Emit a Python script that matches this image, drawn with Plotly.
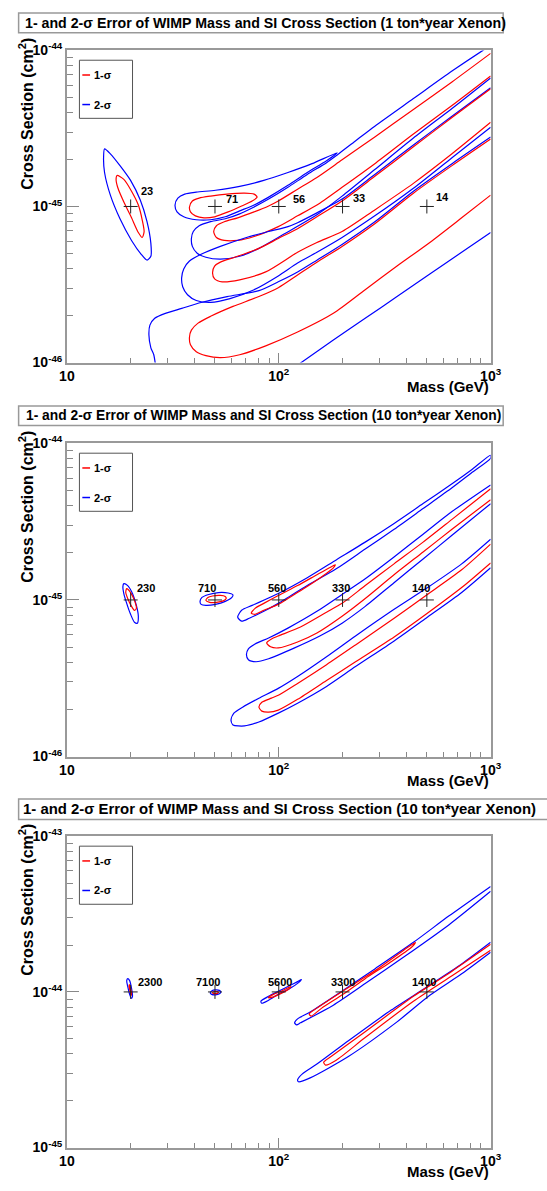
import numpy as np
import plotly.graph_objects as go

W, H = 547, 1191
RED, BLUE = "#ff0000", "#0000ff"
FONT = "Liberation Sans, Arial, Helvetica, sans-serif"

# ---------------------------------------------------------------------------
# Benchmark points (WIMP mass in GeV) and the cross section used in each panel
bench_mass = [20, 50, 100, 200, 500]
bench_xsec = [1e-45, 1e-45, 1e-44]
bench_labels = [
    ["23", "71", "56", "33", "14"],
    ["230", "710", "560", "330", "140"],
    ["2300", "7100", "5600", "3300", "1400"],
]
titles = [
    "1- and 2-σ Error of WIMP Mass and SI Cross Section (1 ton*year Xenon)",
    "1- and 2-σ Error of WIMP Mass and SI Cross Section (10 ton*year Xenon)",
    "1- and 2-σ Error of WIMP Mass and SI Cross Section (10 ton*year Xenon)",
]

# ---------------------------------------------------------------------------
# Panel 1 contours (mass in GeV, cross section in cm^2)
p1_20_red_m = [17.25, 18.57, 20.19, 21.74, 22.67, 23.15, 22.67, 21.74, 20.19, 18.57, 17.43, 17.07, 17.25]
p1_20_red_s = [15.80e-46, 14.91e-46, 12.53e-46, 10.22e-46, 8.22e-46, 6.90e-46, 6.33e-46, 6.81e-46,
               8.46e-46, 10.68e-46, 13.08e-46, 14.91e-46, 15.80e-46]
p1_20_blue_m = [15.06, 16.04, 17.81, 19.98, 22.20, 23.89, 24.91, 24.91, 23.89, 22.43, 20.19, 17.81,
                16.04, 15.06, 14.90, 15.06]
p1_20_blue_s = [23.40e-46, 21.75e-46, 18.27e-46, 14.69e-46, 10.99e-46, 7.99e-46, 5.80e-46, 4.80e-46,
                4.53e-46, 4.94e-46, 6.06e-46, 8.34e-46, 11.82e-46, 16.51e-46, 20.53e-46, 23.40e-46]

p1_50_red_m = [37.9, 39.1, 42.1, 47.7, 57.0, 68.9, 76.5, 79.0, 74.9, 66.8, 57.7, 49.8, 44.4, 40.4, 38.3, 37.9]
p1_50_red_s = [9.93e-46, 10.84e-46, 11.31e-46, 11.65e-46, 12.00e-46, 12.17e-46, 12.00e-46, 11.48e-46,
               10.84e-46, 10.07e-46, 9.23e-46, 8.59e-46, 8.46e-46, 8.71e-46, 9.23e-46, 9.93e-46]
p1_50_blue_m = [32.4, 33.4, 36.0, 40.8, 50.3, 65.4, 85.0, 110.5, 143.6, 188.7, 168.1, 136.3, 110.5,
                89.6, 76.5, 65.4, 55.9, 47.7, 40.8, 35.6, 33.1, 32.4]
p1_50_blue_s = [10.22e-46, 11.31e-46, 12.00e-46, 12.35e-46, 12.71e-46, 13.46e-46, 14.69e-46, 16.51e-46,
                18.81e-46, 22.07e-46, 19.65e-46, 16.51e-46, 13.66e-46, 11.48e-46, 10.22e-46, 9.37e-46,
                8.59e-46, 8.22e-46, 8.22e-46, 8.59e-46, 9.23e-46, 10.22e-46]

p1_100_red_m = [1000, 657, 432, 284, 199, 151.4, 122.7, 99.5, 89.6, 76.5, 64.0, 55.3, 50.8, 49.3,
                50.8, 55.3, 64.0, 76.5, 99.5, 122.7, 151.4, 199, 284, 432, 657, 1000]
p1_100_red_s = [95.7e-46, 62.8e-46, 41.8e-46, 27.9e-46, 19.9e-46, 15.35e-46, 12.9e-46, 10.84e-46,
                10.07e-46, 9.23e-46, 8.46e-46, 7.99e-46, 7.53e-46, 6.91e-46, 6.33e-46, 6.06e-46,
                6.06e-46, 6.42e-46, 7.43e-46, 8.71e-46, 10.22e-46, 13.27e-46, 18.8e-46, 29.1e-46,
                44.3e-46, 68.5e-46]
p1_100_blue_m = [1000, 919, 657, 432, 284, 230, 188.7, 168.1, 136.3, 110.5, 89.6, 76.5, 65.4, 55.9,
                 47.7, 42.1, 39.5, 38.7, 39.1, 41.2, 45.3, 53.0, 65.4, 80.6, 107.0, 151.4, 199, 284,
                 432, 657, 1000]
p1_100_blue_s = [107.5e-46, 100e-46, 73.7e-46, 49.1e-46, 32.7e-46, 26.3e-46, 21.4e-46, 19.09e-46,
                 16.04e-46, 13.27e-46, 11.15e-46, 9.93e-46, 8.97e-46, 8.34e-46, 7.99e-46, 7.53e-46,
                 6.91e-46, 6.24e-46, 5.55e-46, 5.02e-46, 4.73e-46, 4.60e-46, 4.80e-46, 5.39e-46,
                 6.71e-46, 8.84e-46, 11.65e-46, 17.24e-46, 27.45e-46, 42.44e-46, 66.6e-46]

p1_200_red_m = [1000, 657, 432, 284, 199, 151.4, 122.7, 99.5, 80.6, 62.0, 53.0, 49.8, 48.7, 49.8,
                54.1, 65.4, 86.8, 122.7, 151.4, 199, 284, 432, 657, 1000]
p1_200_red_s = [56.8e-46, 37.2e-46, 24.1e-46, 15.6e-46, 10.84e-46, 8.59e-46, 7.21e-46, 6.24e-46,
                5.39e-46, 4.73e-46, 4.40e-46, 4.15e-46, 3.75e-46, 3.44e-46, 3.29e-46, 3.39e-46,
                3.81e-46, 5.09e-46, 5.88e-46, 6.91e-46, 9.51e-46, 14.06e-46, 21.75e-46, 34.6e-46]
p1_200_blue_m = [1000, 657, 432, 284, 199, 151.4, 122.7, 110.5, 89.6, 70.4, 53.0, 43.0, 37.9, 35.6,
                 34.8, 35.2, 37.1, 40.8, 47.7, 58.9, 76.5, 99.5, 122.7, 151.4, 199, 284, 432, 657, 1000]
p1_200_blue_s = [57.6e-46, 37.8e-46, 24.8e-46, 16.04e-46, 11.15e-46, 9.10e-46, 7.87e-46, 7.43e-46,
                 6.91e-46, 6.33e-46, 5.55e-46, 4.94e-46, 4.47e-46, 3.98e-46, 3.49e-46, 3.06e-46,
                 2.72e-46, 2.50e-46, 2.43e-46, 2.57e-46, 2.93e-46, 3.59e-46, 4.34e-46, 5.09e-46,
                 6.33e-46, 8.71e-46, 13.08e-46, 20.53e-46, 32.2e-46]

p1_500_red_m = [1000, 657, 432, 284, 199, 151.4, 122.7, 99.5, 80.6, 60.8, 47.7, 41.6, 38.7, 37.9,
                38.3, 40.8, 45.3, 53.0, 65.4, 86.8, 122.7, 181.0, 255.8, 361.6, 516.4, 729.9, 1000]
p1_500_red_s = [27.05e-46, 18.27e-46, 12.17e-46, 7.76e-46, 5.55e-46, 4.40e-46, 3.64e-46, 3.02e-46,
                2.65e-46, 2.29e-46, 1.98e-46, 1.79e-46, 1.615e-46, 1.459e-46, 1.299e-46, 1.173e-46,
                1.107e-46, 1.075e-46, 1.123e-46, 1.280e-46, 1.569e-46, 2.068e-46, 2.930e-46,
                4.153e-46, 5.885e-46, 8.462e-46, 11.82e-46]
# the 2-sigma region of the 500 GeV point leaves through the lower frame edge
p1_500_blue_m = [26.25, 25.71, 24.91, 24.39, 24.65, 25.98, 29.15, 34.84, 42.98, 57.04, 80.64, 99.47,
                 122.7, 151.4, 198.9, 284.1, 432.1, 657.3, 1000,
                 None,
                 120.1, 181.0, 255.8, 361.6, 516.4, 729.9, 1000]
p1_500_blue_s = [0.944e-46, 1.123e-46, 1.244e-46, 1.502e-46, 1.737e-46, 1.922e-46, 2.067e-46,
                 2.224e-46, 2.426e-46, 2.646e-46, 2.888e-46, 3.291e-46, 3.806e-46, 4.531e-46,
                 5.717e-46, 7.985e-46, 12.53e-46, 18.81e-46, 27.85e-46,
                 None,
                 0.944e-46, 1.397e-46, 1.922e-46, 2.646e-46, 3.697e-46, 5.09e-46, 6.805e-46]

# ---------------------------------------------------------------------------
# Panel 2 contours
p2_20_red_m = [19.16, 19.98, 20.84, 21.28, 20.84, 20.19, 19.37, 18.96, 19.16]
p2_20_red_s = [11.82e-46, 11.15e-46, 9.93e-46, 8.84e-46, 8.59e-46, 9.10e-46, 10.22e-46, 11.15e-46, 11.82e-46]
p2_20_blue_m = [18.57, 19.37, 20.40, 21.28, 21.74, 21.51, 20.84, 19.98, 19.16, 18.57, 18.38, 18.57]
p2_20_blue_s = [12.71e-46, 12.35e-46, 10.99e-46, 9.23e-46, 7.87e-46, 7.11e-46, 7.21e-46, 8.10e-46,
                9.51e-46, 10.99e-46, 12.17e-46, 12.71e-46]

p2_50_red_m = [45.3, 46.3, 48.7, 53.0, 55.9, 56.5, 54.7, 50.8, 47.2, 45.3]
p2_50_red_s = [9.93e-46, 10.38e-46, 10.60e-46, 10.68e-46, 10.53e-46, 10.23e-46, 9.86e-46, 9.65e-46,
               9.65e-46, 9.93e-46]
p2_50_blue_m = [42.5, 43.4, 46.7, 51.9, 57.7, 60.8, 60.1, 55.9, 50.3, 45.3, 43.0, 42.5]
p2_50_blue_s = [9.79e-46, 10.38e-46, 10.84e-46, 11.15e-46, 11.07e-46, 10.76e-46, 10.38e-46, 9.79e-46,
                9.37e-46, 9.23e-46, 9.37e-46, 9.79e-46]

p2_100_red_m = [74.2, 77.3, 85.0, 99.5, 122.7, 151.4, 173.5, 184.8, 181.0, 159.5, 129.3, 110.5, 99.5,
                85.0, 77.3, 74.2]
p2_100_red_s = [8.22e-46, 8.84e-46, 9.51e-46, 10.68e-46, 12.35e-46, 14.48e-46, 16.04e-46, 16.75e-46,
                16.04e-46, 14.06e-46, 11.65e-46, 10.22e-46, 9.37e-46, 8.59e-46, 8.10e-46, 8.22e-46]
p2_100_blue_m = [64.0, 66.8, 74.9, 99.5, 136.3, 186.7, 255.8, 350.4, 479.9, 657.3, 810.6, 1000, 1000,
                 810.6, 657.3, 479.9, 350.4, 255.8, 186.7, 136.3, 110.5, 99.5, 85.0, 72.6, 66.8, 64.0]
p2_100_blue_s = [7.76e-46, 8.59e-46, 9.23e-46, 10.99e-46, 13.86e-46, 18.01e-46, 23.40e-46, 30.83e-46,
                 41.23e-46, 55.13e-46, 67.56e-46, 84.00e-46, 80.41e-46, 64.67e-46, 52.01e-46,
                 38.33e-46, 28.26e-46, 21.14e-46, 15.80e-46, 12.35e-46, 10.38e-46, 9.51e-46,
                 8.46e-46, 7.64e-46, 7.32e-46, 7.76e-46]

p2_200_red_m = [1000, 657, 480, 350, 256, 199, 168, 126.6, 99.5, 92.4, 87.7, 91.5, 99.5, 122.7, 151.4,
                199, 256, 350, 480, 657, 1000]
p2_200_red_s = [51.3e-46, 32.7e-46, 23.4e-46, 17.0e-46, 12.35e-46, 9.51e-46, 8.34e-46, 6.71e-46,
                5.88e-46, 5.63e-46, 5.32e-46, 5.02e-46, 4.94e-46, 5.39e-46, 6.15e-46, 7.87e-46,
                10.22e-46, 14.48e-46, 20.23e-46, 28.26e-46, 43.7e-46]
p2_200_blue_m = [1000, 657, 480, 350, 256, 199, 151.4, 110.5, 89.6, 77.3, 71.9, 70.4, 71.9, 78.1,
                 89.6, 118.8, 156.2, 199, 256, 350, 480, 657, 1000]
p2_200_blue_s = [54.3e-46, 36.7e-46, 26.3e-46, 18.81e-46, 13.66e-46, 10.84e-46, 8.46e-46, 6.61e-46,
                 5.72e-46, 5.24e-46, 4.87e-46, 4.47e-46, 4.15e-46, 4.03e-46, 4.21e-46, 4.94e-46,
                 5.88e-46, 7.11e-46, 9.10e-46, 12.89e-46, 18.27e-46, 25.9e-46, 41.2e-46]

p2_500_red_m = [1000, 729.9, 495.3, 350.4, 230.3, 168.1, 122.7, 99.5, 92.4, 83.2, 80.6, 83.2, 89.6,
                99.5, 122.7, 168.1, 230.3, 350.4, 495.3, 729.9, 1000]
p2_500_red_s = [22.72e-46, 15.57e-46, 10.68e-46, 7.64e-46, 5.16e-46, 3.86e-46, 2.93e-46, 2.46e-46,
                2.36e-46, 2.22e-46, 2.07e-46, 1.95e-46, 1.92e-46, 1.98e-46, 2.32e-46, 3.06e-46,
                4.03e-46, 5.80e-46, 8.10e-46, 12.00e-46, 17.24e-46]
p2_500_blue_m = [1000, 729.9, 495.3, 350.4, 230.3, 168.1, 122.7, 99.5, 80.6, 67.5, 61.4, 59.5, 60.8,
                 68.9, 80.6, 99.5, 122.7, 168.1, 230.3, 350.4, 495.3, 729.9, 1000]
p2_500_blue_s = [24.44e-46, 17.00e-46, 11.82e-46, 8.71e-46, 5.885e-46, 4.338e-46, 3.243e-46,
                 2.724e-46, 2.356e-46, 2.067e-46, 1.894e-46, 1.712e-46, 1.592e-46, 1.569e-46,
                 1.663e-46, 1.894e-46, 2.192e-46, 2.805e-46, 3.752e-46, 5.473e-46, 7.644e-46,
                 11.15e-46, 16.04e-46]

# ---------------------------------------------------------------------------
# Panel 3 contours
p3_20_red_m = [19.71, 19.98, 20.19, 20.09, 19.88, 19.65, 19.71]
p3_20_red_s = [11.15e-45, 10.53e-45, 9.72e-45, 9.51e-45, 10.08e-45, 10.84e-45, 11.15e-45]
p3_20_blue_m = [19.37, 19.78, 20.19, 20.40, 20.19, 19.78, 19.37, 19.16, 19.37]
p3_20_blue_s = [12.17e-45, 11.82e-45, 10.53e-45, 9.37e-45, 9.10e-45, 9.65e-45, 10.84e-45, 11.82e-45, 12.17e-45]

p3_50_red_m = [48.74, 49.26, 50.30, 51.63, 51.91, 51.37, 50.30, 49.26, 48.74]
p3_50_red_s = [9.86e-45, 10.03e-45, 10.08e-45, 10.03e-45, 9.90e-45, 9.79e-45, 9.74e-45, 9.76e-45, 9.86e-45]
p3_50_blue_m = [47.48, 48.23, 50.30, 52.45, 53.29, 52.45, 50.30, 48.23, 47.48]
p3_50_blue_s = [9.86e-45, 10.15e-45, 10.30e-45, 10.23e-45, 10.0e-45, 9.72e-45, 9.58e-45, 9.65e-45, 9.86e-45]

p3_100_red_m = [89.55, 94.38, 102.7, 114.0, 111.7, 102.7, 94.38, 89.55, 89.55]
p3_100_red_s = [9.23e-45, 9.65e-45, 10.08e-45, 10.84e-45, 10.45e-45, 9.79e-45, 9.30e-45, 9.16e-45, 9.23e-45]
p3_100_blue_m = [82.35, 89.55, 99.47, 112.8, 122.7, 127.9, 124.0, 112.8, 99.47, 89.55, 83.21, 82.35]
p3_100_blue_s = [8.71e-45, 9.37e-45, 10.08e-45, 10.99e-45, 11.65e-45, 12.00e-45, 11.48e-45, 10.53e-45,
                 9.65e-45, 8.84e-45, 8.46e-45, 8.71e-45]

p3_200_red_m = [139.2, 151.4, 201.0, 284.1, 389.0, 441.3, 423.2, 332.4, 255.8, 201.0, 159.5, 142.2, 139.2]
p3_200_red_s = [7.21e-45, 7.87e-45, 10.15e-45, 13.66e-45, 18.54e-45, 20.83e-45, 19.37e-45, 15.35e-45,
                12.17e-45, 9.65e-45, 7.87e-45, 7.00e-45, 7.21e-45]
p3_200_blue_m = [1000, 636.7, 432.1, 284.1, 201.0, 140.7, 122.7, 118.8, 121.4, 126.6, 181.0, 255.8,
                 389.0, 636.7, 1000]
p3_200_blue_s = [47.67e-45, 30.83e-45, 20.83e-45, 14.06e-45, 10.22e-45, 7.425e-45, 6.71e-45, 6.33e-45,
                 6.15e-45, 6.33e-45, 8.22e-45, 11.31e-45, 16.75e-45, 27.05e-45, 44.32e-45]

p3_500_red_m = [1000, 657.3, 432.1, 255.8, 177.2, 162.9, 166.3, 186.7, 255.8, 432.1, 657.3, 1000]
p3_500_red_s = [20.23e-45, 13.6e-45, 9.37e-45, 5.553e-45, 3.862e-45, 3.539e-45, 3.388e-45, 3.644e-45,
                5.09e-45, 8.71e-45, 12.71e-45, 18.54e-45]
p3_500_blue_m = [1000, 729.9, 495.3, 339.5, 214.0, 151.4, 129.3, 122.7, 124.0, 140.7, 214.0, 361.6,
                 516.4, 729.9, 1000]
p3_500_blue_s = [20.83e-45, 15.13e-45, 10.68e-45, 7.644e-45, 4.872e-45, 3.438e-45, 2.973e-45, 2.724e-45,
                 2.646e-45, 2.805e-45, 3.862e-45, 6.421e-45, 9.51e-45, 13.08e-45, 18.01e-45]

contours = [
    # (panel, colour, mass, cross section)
    (1, BLUE, p1_20_blue_m, p1_20_blue_s), (1, RED, p1_20_red_m, p1_20_red_s),
    (1, BLUE, p1_50_blue_m, p1_50_blue_s), (1, RED, p1_50_red_m, p1_50_red_s),
    (1, BLUE, p1_100_blue_m, p1_100_blue_s), (1, RED, p1_100_red_m, p1_100_red_s),
    (1, BLUE, p1_200_blue_m, p1_200_blue_s), (1, RED, p1_200_red_m, p1_200_red_s),
    (1, BLUE, p1_500_blue_m, p1_500_blue_s), (1, RED, p1_500_red_m, p1_500_red_s),
    (2, BLUE, p2_20_blue_m, p2_20_blue_s), (2, RED, p2_20_red_m, p2_20_red_s),
    (2, BLUE, p2_50_blue_m, p2_50_blue_s), (2, RED, p2_50_red_m, p2_50_red_s),
    (2, BLUE, p2_100_blue_m, p2_100_blue_s), (2, RED, p2_100_red_m, p2_100_red_s),
    (2, BLUE, p2_200_blue_m, p2_200_blue_s), (2, RED, p2_200_red_m, p2_200_red_s),
    (2, BLUE, p2_500_blue_m, p2_500_blue_s), (2, RED, p2_500_red_m, p2_500_red_s),
    (3, BLUE, p3_20_blue_m, p3_20_blue_s), (3, RED, p3_20_red_m, p3_20_red_s),
    (3, BLUE, p3_50_blue_m, p3_50_blue_s), (3, RED, p3_50_red_m, p3_50_red_s),
    (3, BLUE, p3_100_blue_m, p3_100_blue_s), (3, RED, p3_100_red_m, p3_100_red_s),
    (3, BLUE, p3_200_blue_m, p3_200_blue_s), (3, RED, p3_200_red_m, p3_200_red_s),
    (3, BLUE, p3_500_blue_m, p3_500_blue_s), (3, RED, p3_500_red_m, p3_500_red_s),
]

# ---------------------------------------------------------------------------
# Page layout (pixel geometry of the three pads)
pads = [
    dict(top=41, bottom=358, ylog=(-46, -44), box=(11, 3, 513, 23), tsize=14.2, tx=267),
    dict(top=440, bottom=758, ylog=(-46, -44), box=(11, 402, 513, 422), tsize=13.8, tx=265),
    dict(top=839, bottom=1155, ylog=(-45, -43), box=(11, 801, 560, 822), tsize=14.9, tx=281),
]
# label placement per pad: (xanchor, xshift, yshift)
label_style = [
    [("left", 8, 15), ("left", 9, 7), ("left", 12, 7), ("left", 8, 8), ("left", 7, 9)],
    [("left", 4, 12), ("center", -8, 12), ("center", -2, 12), ("center", -2, 12), ("center", -6, 12)],
    [("left", 5, 10), ("center", -7, 10), ("center", 1, 10), ("center", 0, 10), ("center", -3, 10)],
]
X_LEFT, X_RIGHT = 61, 500


def px(x):
    return x / W


def py(y):
    return 1 - y / H


fig = go.Figure()
for panel, colour, m, s in contours:
    fig.add_trace(go.Scatter(
        x=m, y=s, mode="lines", xaxis=f"x{panel}", yaxis=f"y{panel}",
        line=dict(color=colour, width=1.2, shape="spline", smoothing=0.7),
        connectgaps=False, hoverinfo="skip", showlegend=False))

shapes, annotations = [], []
bold = dict(family=FONT, color="black", weight="bold")
x_minor = [k * 10 ** e for e in (1, 2) for k in range(2, 10)]

for i, pad in enumerate(pads, start=1):
    xs = bench_mass
    ys = [bench_xsec[i - 1]] * len(bench_mass)
    fig.add_trace(go.Scatter(
        x=xs, y=ys, mode="markers", xaxis=f"x{i}", yaxis=f"y{i}",
        marker=dict(symbol="cross-thin", size=10, line=dict(width=1, color="#222")),
        hoverinfo="skip", showlegend=False))
    for m, yv, txt, (anc, dx, dy) in zip(xs, ys, bench_labels[i - 1], label_style[i - 1]):
        annotations.append(dict(
            x=np.log10(m), y=np.log10(yv), xref=f"x{i}", yref=f"y{i}", text=txt,
            showarrow=False, xanchor=anc, yanchor="middle", xshift=dx, yshift=dy,
            font=dict(size=11, **bold)))

    lo, hi = pad["ylog"]
    y_minor = [k * 10.0 ** e for e in range(lo, hi) for k in range(2, 10)]
    ydom = [py(pad["bottom"]), py(pad["top"])]
    axis_common = dict(
        type="log", showgrid=False, zeroline=False, showline=True, linecolor="#999",
        linewidth=1.5, mirror=True, ticks="inside", tickcolor="#888", tickwidth=1,
        tickfont=dict(size=14, **bold))
    fig.layout[f"xaxis{i}"] = dict(
        axis_common, domain=[px(X_LEFT), px(X_RIGHT)], anchor=f"y{i}", range=[1, 3],
        tickvals=[10, 100, 1000], ticktext=["10", "10<sup>2</sup>", "10<sup>3</sup>"],
        ticklen=10, minor=dict(tickvals=x_minor, ticks="inside", ticklen=5, tickcolor="#888"))
    fig.layout[f"yaxis{i}"] = dict(
        axis_common, domain=ydom, anchor=f"x{i}", range=[lo, hi],
        tickvals=[10.0 ** e for e in range(lo, hi + 1)],
        ticktext=[f"10<sup>{e}</sup>" for e in range(lo, hi + 1)],
        ticklen=12, minor=dict(tickvals=y_minor, ticks="inside", ticklen=6, tickcolor="#888"))

    # title box
    bx0, by0, bx1, by1 = pad["box"]
    shapes.append(dict(type="rect", xref="paper", yref="paper", x0=px(bx0), x1=px(bx1),
                       y0=py(by1), y1=py(by0), line=dict(color="#999", width=1.5),
                       fillcolor="white", layer="below"))
    annotations.append(dict(x=px(pad["tx"]), y=py((by0 + by1) / 2), xref="paper", yref="paper",
                            text=titles[i - 1], showarrow=False, xanchor="center",
                            yanchor="middle", font=dict(size=pad["tsize"], **bold)))

    # axis titles
    annotations.append(dict(x=px(X_RIGHT), y=py(pad["bottom"] + 24), xref="paper", yref="paper",
                            text="Mass (GeV)", showarrow=False, xanchor="right",
                            yanchor="middle", font=dict(size=15, **bold)))
    annotations.append(dict(x=px(19), y=py(pad["top"] + 64), xref="paper", yref="paper",
                            text="Cross Section (cm<sup>2</sup>)", showarrow=False,
                            textangle=-90, xanchor="center", yanchor="middle",
                            font=dict(size=16, **bold)))

    # legend
    t = pad["top"]
    shapes.append(dict(type="rect", xref="paper", yref="paper", x0=px(74), x1=px(129),
                       y0=py(t + 69), y1=py(t + 10), line=dict(color="#555", width=1),
                       fillcolor="white"))
    for dy, colour, txt in ((25, RED, "1-σ"), (55, BLUE, "2-σ")):
        shapes.append(dict(type="line", xref="paper", yref="paper", x0=px(77), x1=px(85),
                           y0=py(t + dy), y1=py(t + dy), line=dict(color=colour, width=1.5)))
        annotations.append(dict(x=px(87), y=py(t + dy), xref="paper", yref="paper", text=txt,
                                showarrow=False, xanchor="left", yanchor="middle",
                                font=dict(size=11, **bold)))

fig.update_layout(
    width=W, height=H, margin=dict(l=0, r=0, t=0, b=0),
    paper_bgcolor="white", plot_bgcolor="white", showlegend=False,
    shapes=shapes, annotations=annotations)

fig.write_html("out.html")
